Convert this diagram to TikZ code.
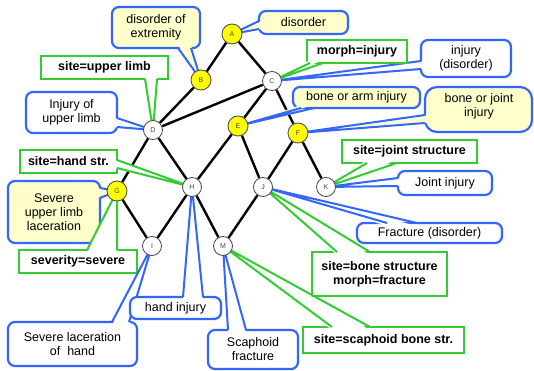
\documentclass[tikz,border=0pt]{standalone}
\usepackage{fontspec}
\setmainfont{Liberation Sans}
\usetikzlibrary{calc}
\definecolor{cblue}{RGB}{51,102,255}
\definecolor{cgreen}{RGB}{51,204,51}
\definecolor{cream}{RGB}{255,255,204}
\definecolor{nyel}{RGB}{255,255,0}
\definecolor{ndark}{RGB}{70,70,70}
\pgfdeclarelayer{edgelayer}
\pgfdeclarelayer{calloutlayer}
\pgfsetlayers{edgelayer,calloutlayer,main}
% #1 line colour, #2 fill colour, #3 corner style, #4 box path,
% #5 base point 1, #6 tip, #7 base point 2, #8 inset vector (into the box)
\newcommand\callout[8]{%
  \filldraw[draw=#1,fill=#2,line width=2.2pt,#3] #4;
  \fill[fill=#2] ($#5+#8$) -- #6 -- ($#7+#8$) -- cycle;
  \draw[draw=#1,line width=2pt,line join=round] #5 -- #6 -- #7;
}
\begin{document}
\begin{tikzpicture}[x=1pt,y=-1pt,
  gnode/.style={circle,draw=ndark,line width=0.8pt,inner sep=0pt,
    font=\fontsize{7}{8}\selectfont,text=ndark},
  yn/.style={gnode,fill=nyel,minimum size=20pt},
  wn/.style={gnode,fill=white,minimum size=19pt},
  edge/.style={draw=black,line width=2.4pt},
  btxt/.style={font=\fontsize{12.5}{14}\selectfont,align=center,inner sep=0pt,text=black},
  gtxt/.style={font=\bfseries\fontsize{12.5}{14}\selectfont,align=center,inner sep=0pt,text=black},
  rc/.style={rounded corners=7pt},
  sc/.style={sharp corners}]
\useasboundingbox (0,0) rectangle (534,371);

% graph nodes
\node[yn] (A) at (232,34) {A};
\node[yn] (B) at (201,80) {B};
\node[wn] (C) at (272,81) {C};
\node[wn] (D) at (153,130) {D};
\node[yn] (E) at (238,126) {E};
\node[yn] (F) at (298,133) {F};
\node[yn] (G) at (117,191) {G};
\node[wn] (H) at (192,187) {H};
\node[wn] (J) at (263,187) {J};
\node[wn] (K) at (326,187) {K};
\node[wn] (I) at (152,246) {I};
\node[wn] (M) at (223,246) {M};

\begin{pgfonlayer}{edgelayer}
\fill[white] (0,0) rectangle (534,371);
\draw[edge] (A)--(B) (A)--(C) (B)--(D) (C)--(D) (C)--(E) (C)--(F)
  (D)--(G) (D)--(H) (E)--(H) (E)--(J) (F)--(J) (F)--(K)
  (G)--(I) (H)--(I) (H)--(M) (J)--(M);
\end{pgfonlayer}

\begin{pgfonlayer}{calloutlayer}
% disorder
\callout{cblue}{cream}{rc}{(259,11) rectangle (348,34)}{(259,21)}{(A.center)}{(259,29)}{(3,0)}
\node[btxt] (t1) at (303.5,22.5) {disorder};
% disorder of extremity
\callout{cblue}{cream}{rc}{(112,7) rectangle (200,48)}{(178,48)}{(B.center)}{(191,48)}{(0,-3)}
\node[btxt] (t2) at (156,27.5) {disorder of\\extremity};
% Injury of upper limb
\callout{cblue}{white}{rc}{(26,92) rectangle (117,133)}{(117,118)}{(D.center)}{(117,127)}{(-3,0)}
\node[btxt] (t4) at (71.5,112.5) {Injury of\\upper limb};
% Severe upper limb laceration
\callout{cblue}{cream}{rc}{(8,181) rectangle (100,243)}{(100,188)}{(G.center)}{(100,198)}{(-3,0)}
\node[btxt] (t6) at (54,212) {Severe\\upper limb\\laceration};
% site=upper limb
\callout{cgreen}{white}{sc}{(41,56) rectangle (168,79)}{(145,79)}{(D.center)}{(157,79)}{(0,-3)}
\node[gtxt] (t3) at (104.5,67.5) {site=upper limb};
% site=hand str.
\callout{cgreen}{white}{sc}{(20,150) rectangle (117,173)}{(117,160)}{(H.center)}{(117,168)}{(-3,0)}
\node[gtxt] (t5) at (68.5,161.5) {site=hand str.};
% severity=severe
\callout{cgreen}{white}{sc}{(19,250) rectangle (137,273)}{(87,250)}{(G.center)}{(117,250)}{(0,3)}
\node[gtxt] (t7) at (78,261.5) {severity=severe};
% Severe laceration of hand
\callout{cblue}{white}{rc}{(8,322) rectangle (137,366)}{(112,322)}{(I.center)}{(129,322)}{(0,3)}
\node[btxt] (t8) at (72.5,344) {Severe laceration\\of\ \ hand};
% hand injury
\callout{cblue}{white}{rc}{(130,297) rectangle (221,319)}{(183,297)}{(H.center)}{(203,297)}{(0,3)}
\node[btxt] (t9) at (175.5,308) {hand injury};
% Scaphoid fracture
\callout{cblue}{white}{rc}{(208,330) rectangle (298,369)}{(228,330)}{(M.center)}{(246,330)}{(0,3)}
\node[btxt] (t10) at (253,349.5) {Scaphoid\\fracture};
% Fracture (disorder)
\callout{cblue}{white}{rc}{(357,223) rectangle (502,243)}{(387,223)}{(J.center)}{(417,223)}{(0,3)}
\node[btxt] (t13) at (429.5,233) {Fracture (disorder)};
% site=bone structure
\callout{cgreen}{white}{sc}{(312,252) rectangle (447,296)}{(337,252)}{(J.center)}{(370,252)}{(0,3)}
\node[gtxt] (t12) at (379.5,274) {site=bone structure\\morph=fracture};
% site=scaphoid bone str.
\callout{cgreen}{white}{sc}{(303,327) rectangle (464,353)}{(332,327)}{(M.center)}{(370,327)}{(0,3)}
\node[gtxt] (t11) at (383.5,340) {site=scaphoid bone str.};
% Joint injury
\callout{cblue}{white}{rc}{(398,171) rectangle (492,195)}{(398,178)}{(K.center)}{(398,186)}{(3,0)}
\node[btxt] (t14) at (445,183) {Joint injury};
% site=joint structure
\callout{cgreen}{white}{sc}{(342,140) rectangle (477,163)}{(367,163)}{(K.center)}{(397,163)}{(0,-3)}
\node[gtxt] (t15) at (409.5,151.5) {site=joint structure};
% bone or joint injury
\callout{cblue}{cream}{rounded corners=12pt}{(425,87) rectangle (532,132)}{(425,115)}{(F.center)}{(425,123)}{(3,0)}
\node[btxt] (t16) at (479,106) {bone or joint\\injury};
% bone or arm injury
\callout{cblue}{cream}{rc}{(293,87) rectangle (420,108)}{(301,108)}{(E.center)}{(314,108)}{(0,-3)}
\node[btxt] (t17) at (356.5,97.5) {bone or arm injury};
% injury (disorder)
\callout{cblue}{white}{rc}{(421,40) rectangle (511,77)}{(421,61)}{(C.center)}{(421,69)}{(3,0)}
\node[btxt] (t18) at (466,58.5) {injury\\(disorder)};
% morph=injury
\callout{cgreen}{white}{sc}{(307,40) rectangle (407,63)}{(310,63)}{(C.center)}{(323,63)}{(0,-3)}
\node[gtxt] (t19) at (357,51.5) {morph=injury};
\end{pgfonlayer}
\end{tikzpicture}
\end{document}
